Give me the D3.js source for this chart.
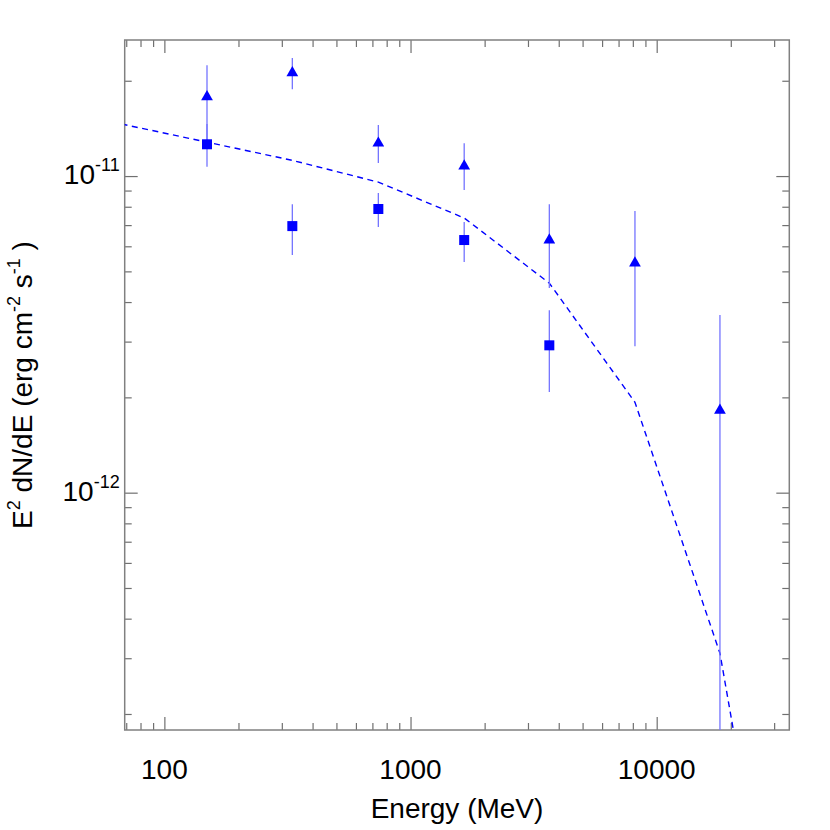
<!DOCTYPE html>
<html>
<head>
<meta charset="utf-8">
<script src="https://cdn.jsdelivr.net/npm/d3@7"></script>
<style>
  body { margin: 0; background: #fff; }
  text { font-family: "Liberation Sans", Arial, sans-serif; fill: #000; }
</style>
</head>
<body>
<div id="chart"></div>
<script>
// energy bin centres (MeV)
var energies = [149, 331, 740, 1652, 3663, 8160, 18070];

// triangles: flux and error bar ends (erg cm-2 s-1)
var triFlux = [1.78e-11, 2.12e-11, 1.27e-11, 1.076e-11, 6.28e-12, 5.31e-12, 1.82e-12];
var triHigh = [2.24e-11, 2.36e-11, 1.45e-11, 1.27e-11, 8.15e-12, 7.75e-12, 3.64e-12];
var triLow  = [1.30e-11, 1.88e-11, 1.10e-11, 9.03e-12, 4.43e-12, 2.90e-12, 1e-14];

// squares (first five bins)
var sqEnergies = [149, 331, 740, 1652, 3663];
var sqFlux = [1.26e-11, 6.95e-12, 7.87e-12, 6.28e-12, 2.92e-12];
var sqHigh = [1.46e-11, 8.15e-12, 8.84e-12, 7.16e-12, 3.77e-12];
var sqLow  = [1.07e-11, 5.63e-12, 6.90e-12, 5.35e-12, 2.08e-12];

// dashed model curve
var modelE    = [67, 149, 331, 740, 1652, 3663, 8160, 18070, 40300];
var modelFlux = [1.46e-11, 1.28e-11, 1.121e-11, 9.57e-12, 7.37e-12, 4.59e-12, 1.93e-12, 3.11e-13, 8.8e-15];

var xTickVals = [100, 1000, 10000];
var yTickVals = [1e-11, 1e-12];
var yTickExp = ["-11", "-12"];

var W = 830, H = 830;
var margin = {left: 124.7, top: 40, right: 830 - 789.3, bottom: 100};
var pw = W - margin.left - margin.right, ph = H - margin.top - margin.bottom;

var svg = d3.select("#chart").append("svg")
    .attr("width", W)
    .attr("height", H);

var x = d3.scaleLog().domain([69, 34570]).range([0, pw]);
var y = d3.scaleLog().domain([1.78e-13, 2.69e-11]).range([ph, 0]);

var g = svg.append("g").attr("transform", "translate(" + margin.left + "," + margin.top + ")");

g.append("clipPath").attr("id", "clip")
  .append("rect").attr("width", pw).attr("height", ph);

// minor + major ticks
var xMinor = [], yMinor = [];
[10, 100, 1000, 10000].forEach(function (d) {
  for (var k = 2; k <= 9; k++) {
    var v = d * k;
    if (v > x.domain()[0] && v < x.domain()[1]) xMinor.push(v);
  }
});
[1e-13, 1e-12, 1e-11].forEach(function (d) {
  for (var k = 2; k <= 9; k++) {
    var v = d * k;
    if (v > y.domain()[0] && v < y.domain()[1]) yMinor.push(v);
  }
});

var tickColor = "#707070";
function axisSet(axisFn, scale, vals, len) {
  return axisFn(scale).tickValues(vals).tickSize(len).tickFormat("");
}
// bottom / top
[[d3.axisTop, ph, xMinor, 7], [d3.axisTop, ph, xTickVals, 13],
 [d3.axisBottom, 0, xMinor, 7], [d3.axisBottom, 0, xTickVals, 13]].forEach(function (a) {
  g.append("g").attr("class", "tk")
    .attr("transform", "translate(0," + a[1] + ")")
    .call(axisSet(a[0], x, a[2], a[3]));
});
// left / right
[[d3.axisRight, 0, yMinor, 7], [d3.axisRight, 0, yTickVals, 13],
 [d3.axisLeft, pw, yMinor, 7], [d3.axisLeft, pw, yTickVals, 13]].forEach(function (a) {
  g.append("g").attr("class", "tk")
    .attr("transform", "translate(" + a[1] + ",0)")
    .call(axisSet(a[0], y, a[2], a[3]));
});
g.selectAll(".tk path").remove();
g.selectAll(".tk line").attr("stroke", tickColor).attr("stroke-width", 1.2);

g.append("rect")
  .attr("width", pw).attr("height", ph)
  .attr("fill", "none").attr("stroke", "#808080").attr("stroke-width", 1.5);

// x tick labels
g.selectAll(".xl").data(xTickVals).enter().append("text")
  .attr("x", function (d) { return x(d); })
  .attr("y", ph + 49)
  .attr("text-anchor", "middle")
  .attr("font-size", "28px")
  .text(function (d) { return d; });

// y tick labels 10^exp
var yl = g.selectAll(".yl").data(yTickVals).enter().append("text")
  .attr("x", -5)
  .attr("y", function (d) { return y(d) + 8; })
  .attr("text-anchor", "end")
  .attr("font-size", "28px");
yl.append("tspan").text("10");
yl.append("tspan").attr("dy", -13).attr("font-size", "18px")
  .text(function (d, i) { return yTickExp[i]; });

// axis titles
svg.append("text")
  .attr("x", margin.left + pw / 2)
  .attr("y", 818)
  .attr("text-anchor", "middle")
  .attr("font-size", "28px")
  .text("Energy (MeV)");

var yt = svg.append("text")
  .attr("transform", "translate(32," + (margin.top + ph / 2) + ") rotate(-90)")
  .attr("text-anchor", "middle")
  .attr("font-size", "28px");
yt.append("tspan").text("E");
yt.append("tspan").attr("dy", -12).attr("font-size", "18px").text("2");
yt.append("tspan").attr("dy", 12).text(" dN/dE (erg cm");
yt.append("tspan").attr("dy", -12).attr("font-size", "18px").text("-2");
yt.append("tspan").attr("dy", 12).text(" s");
yt.append("tspan").attr("dy", -12).attr("font-size", "18px").text("-1");
yt.append("tspan").attr("dy", 12).text(" )");

var plot = g.append("g").attr("clip-path", "url(#clip)");

// model
var model = modelE.map(function (e, i) { return [e, modelFlux[i]]; });
plot.append("path")
  .datum(model)
  .attr("fill", "none")
  .attr("stroke", "#0000ff")
  .attr("stroke-width", 1.4)
  .attr("stroke-dasharray", "6,4.5")
  .attr("d", d3.line().x(function (d) { return x(d[0]); }).y(function (d) { return y(d[1]); }));

// error bars
var barColor = "#7474ff";
plot.selectAll(".teb").data(energies).enter().append("line")
  .attr("x1", function (d) { return x(d); }).attr("x2", function (d) { return x(d); })
  .attr("y1", function (d, i) { return y(triHigh[i]); })
  .attr("y2", function (d, i) { return y(triLow[i]); })
  .attr("stroke", barColor).attr("stroke-width", 1.3);
plot.selectAll(".seb").data(sqEnergies).enter().append("line")
  .attr("x1", function (d) { return x(d); }).attr("x2", function (d) { return x(d); })
  .attr("y1", function (d, i) { return y(sqHigh[i]); })
  .attr("y2", function (d, i) { return y(sqLow[i]); })
  .attr("stroke", barColor).attr("stroke-width", 1.3);

// markers
var tri = d3.symbol().type(d3.symbolTriangle).size(60);
plot.selectAll(".tri").data(energies).enter().append("path")
  .attr("d", tri)
  .attr("transform", function (d, i) { return "translate(" + x(d) + "," + y(triFlux[i]) + ")"; })
  .attr("fill", "#0000ff");
plot.selectAll(".sq").data(sqEnergies).enter().append("rect")
  .attr("x", function (d) { return x(d) - 5; })
  .attr("y", function (d, i) { return y(sqFlux[i]) - 5; })
  .attr("width", 10).attr("height", 10)
  .attr("fill", "#0000ff");
</script>
</body>
</html>
